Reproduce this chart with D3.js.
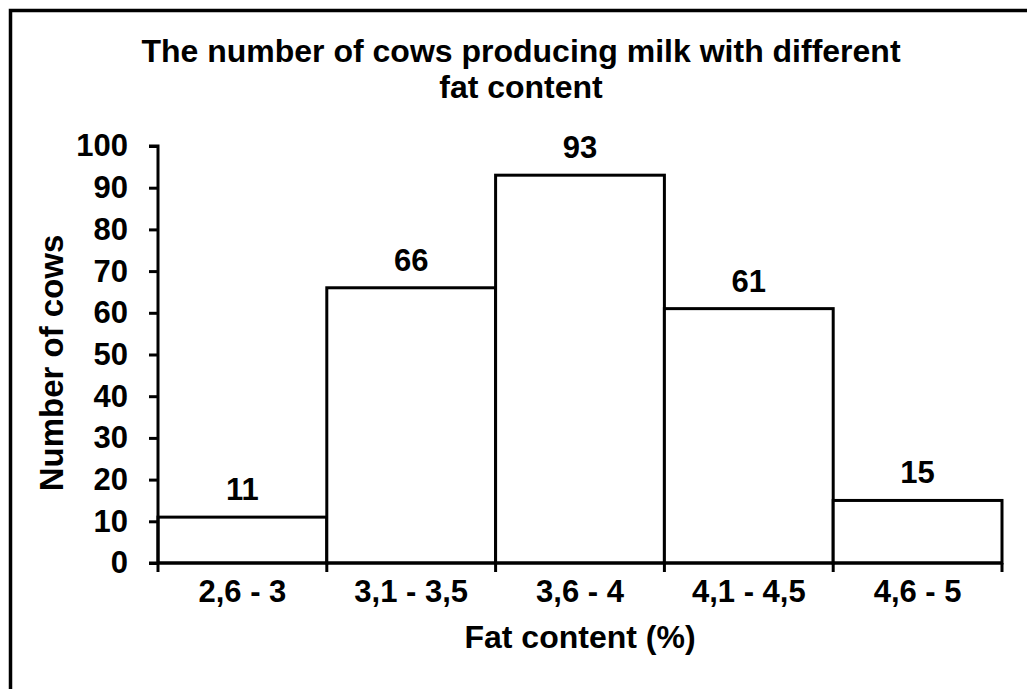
<!DOCTYPE html>
<html>
<head>
<meta charset="utf-8">
<script src="https://cdn.jsdelivr.net/npm/d3@7"></script>
<style>
  body { margin: 0; background: #fff; }
  text { font-family: "Liberation Sans", Arial, sans-serif; font-weight: bold; fill: #000; }
</style>
</head>
<body>
<div id="chart"></div>
<script>
const categories = ['2,6 - 3', '3,1 - 3,5', '3,6 - 4', '4,1 - 4,5', '4,6 - 5'];
const cowCounts = [11, 66, 93, 61, 15];
const yTicks = [0, 10, 20, 30, 40, 50, 60, 70, 80, 90, 100];
const titleLines = ['The number of cows producing milk with different', 'fat content'];

const width = 1027, height = 689;

const svg = d3.create('svg')
  .attr('width', width)
  .attr('height', height);

// border, only top and left are visible in the picture
svg.append('path')
  .attr('d', `M10.5,${height} V10.5 H${width}`)
  .attr('fill', 'none')
  .attr('stroke', '#000')
  .attr('stroke-width', 3.5);

const xScale = d3.scaleBand()
  .domain(categories)
  .range([158, 1002])
  .padding(0);

const yScale = d3.scaleLinear()
  .domain([0, 100])
  .range([563, 146]);

// bars
svg.append('g')
  .selectAll('rect')
  .data(cowCounts)
  .enter()
  .append('rect')
    .attr('x', (d, i) => xScale(categories[i]))
    .attr('y', d => yScale(d))
    .attr('width', xScale.bandwidth())
    .attr('height', d => yScale(0) - yScale(d))
    .attr('fill', '#fff')
    .attr('stroke', '#000')
    .attr('stroke-width', 3);

// value labels
svg.append('g')
  .selectAll('text')
  .data(cowCounts)
  .enter()
  .append('text')
    .attr('x', (d, i) => xScale(categories[i]) + xScale.bandwidth() / 2)
    .attr('y', d => yScale(d) - 17)
    .attr('text-anchor', 'middle')
    .attr('font-size', 31)
    .text(d => d);

// y axis
const yAxis = svg.append('g')
  .attr('transform', `translate(${xScale.range()[0]},0)`)
  .call(d3.axisLeft(yScale).tickValues(yTicks).tickSize(9).tickPadding(21));
yAxis.selectAll('path, line').attr('stroke', '#000').attr('stroke-width', 3);
yAxis.select('.domain').attr('d', `M-9,${yScale(100)}H0V${yScale(0)}`);
yAxis.selectAll('text')
  .attr('font-size', 31)
  .attr('font-family', '"Liberation Sans", Arial, sans-serif')
  .attr('font-weight', 'bold')
  .attr('fill', '#000');

// x axis, ticks sit on the bin edges
const edges = categories.map(c => xScale(c)).concat([xScale.range()[1]]);
const xAxis = svg.append('g');
xAxis.append('line')
  .attr('x1', xScale.range()[0] - 9)
  .attr('x2', xScale.range()[1])
  .attr('y1', yScale(0))
  .attr('y2', yScale(0))
  .attr('stroke', '#000')
  .attr('stroke-width', 3);
xAxis.selectAll('.tick')
  .data(edges)
  .enter()
  .append('line')
    .attr('x1', d => d)
    .attr('x2', d => d)
    .attr('y1', yScale(0))
    .attr('y2', yScale(0) + 9)
    .attr('stroke', '#000')
    .attr('stroke-width', 3);
xAxis.selectAll('text')
  .data(categories)
  .enter()
  .append('text')
    .attr('x', d => xScale(d) + xScale.bandwidth() / 2)
    .attr('y', 602)
    .attr('text-anchor', 'middle')
    .attr('font-size', 31)
    .text(d => d);

// axis titles
svg.append('text')
  .attr('x', 580)
  .attr('y', 648)
  .attr('text-anchor', 'middle')
  .attr('font-size', 32)
  .text('Fat content (%)');

svg.append('text')
  .attr('transform', 'translate(63,363) rotate(-90)')
  .attr('text-anchor', 'middle')
  .attr('font-size', 33)
  .text('Number of cows');

// title
svg.append('g')
  .selectAll('text')
  .data(titleLines)
  .enter()
  .append('text')
    .attr('x', 521)
    .attr('y', (d, i) => 62 + i * 36)
    .attr('text-anchor', 'middle')
    .attr('font-size', 32)
    .text(d => d);

d3.select('#chart')
  .node()
  .appendChild(svg.node());
</script>
</body>
</html>
